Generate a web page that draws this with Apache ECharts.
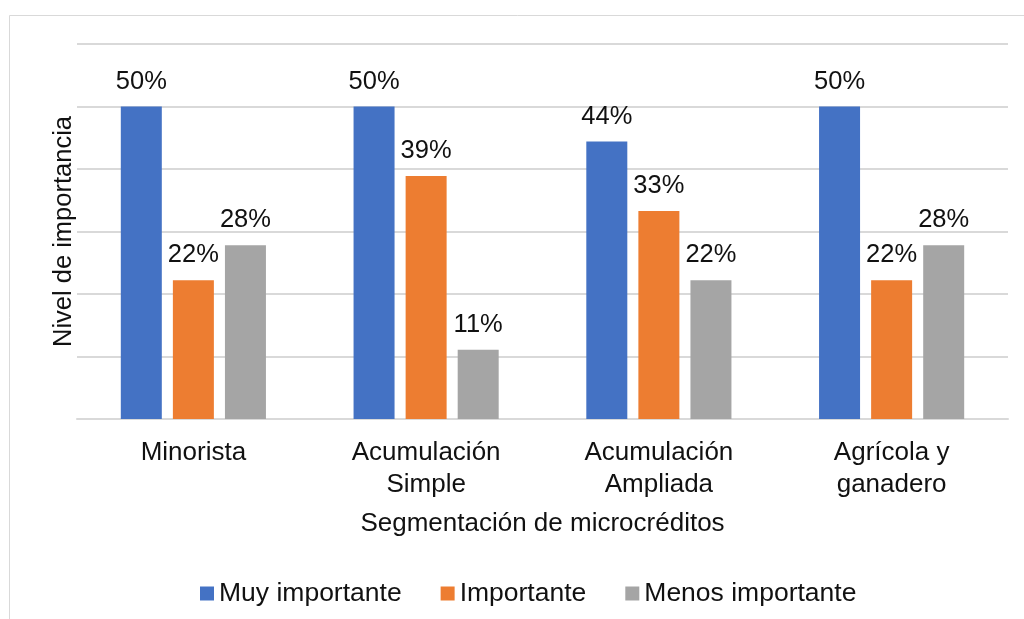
<!DOCTYPE html>
<html>
<head>
<meta charset="utf-8">
<script src="https://cdn.jsdelivr.net/npm/echarts@6/dist/echarts.min.js"></script>
<style>
html,body{margin:0;padding:0;background:#fff;}
#chart{width:1024px;height:619px;}
</style>
</head>
<body>
<div id="chart"></div>
<script>
const categories = ['Minorista', 'Acumulación\nSimple', 'Acumulación\nAmpliada', 'Agrícola y\nganadero'];
const seriesNames = ['Muy importante', 'Importante', 'Menos importante'];
const muyImportante = [50, 50, 44.4, 50];
const importante = [22.2, 38.9, 33.3, 22.2];
const menosImportante = [27.8, 11.1, 22.2, 27.8];
const colors = ['#4472C4', '#ED7D31', '#A5A5A5'];
const FONT = 'Liberation Sans, Arial, sans-serif';
const TXT = '#111';

const chart = echarts.init(document.getElementById('chart'));
const mk = (name, data, color) => ({
  name: name,
  type: 'bar',
  data: data,
  barWidth: 41,
  barGap: '27%',
  itemStyle: { color: color },
  label: {
    show: true,
    position: 'top',
    distance: 12,
    color: TXT,
    fontFamily: FONT,
    fontSize: 25.5,
    formatter: p => Math.round(p.value) + '%'
  }
});
chart.setOption({
  animation: false,
  backgroundColor: '#fff',
  graphic: [{
    type: 'rect',
    shape: { x: 9.5, y: 15.5, width: 1040, height: 640 },
    style: { fill: 'none', stroke: '#d9d9d9', lineWidth: 1 },
    silent: true, z: -10
  }],
  grid: { left: 77, right: 16, top: 44, height: 375 },
  legend: {
    data: seriesNames,
    left: 200, top: 580, padding: 0,
    itemWidth: 14, itemHeight: 14, itemGap: 39,
    icon: 'rect',
    textStyle: { color: TXT, fontFamily: FONT, fontSize: 26.5 }
  },
  xAxis: {
    type: 'category',
    data: categories,
    name: 'Segmentación de microcréditos',
    nameLocation: 'middle',
    nameGap: 92,
    nameTextStyle: { color: TXT, fontFamily: FONT, fontSize: 26 },
    axisLine: { lineStyle: { color: '#d9d9d9', width: 2 } },
    axisTick: { show: false },
    axisLabel: { color: TXT, fontFamily: FONT, fontSize: 26, lineHeight: 32, margin: 18, interval: 0 }
  },
  yAxis: {
    type: 'value',
    min: 0, max: 60, interval: 10,
    name: 'Nivel de importancia',
    nameLocation: 'middle',
    nameGap: 0,
    nameTextStyle: { color: TXT, fontFamily: FONT, fontSize: 25.5 },
    axisLabel: { show: false },
    axisLine: { show: false },
    axisTick: { show: false },
    splitLine: { lineStyle: { color: '#d9d9d9', width: 2 } }
  },
  series: [
    mk(seriesNames[0], muyImportante, colors[0]),
    mk(seriesNames[1], importante, colors[1]),
    mk(seriesNames[2], menosImportante, colors[2])
  ]
});
</script>
</body>
</html>
